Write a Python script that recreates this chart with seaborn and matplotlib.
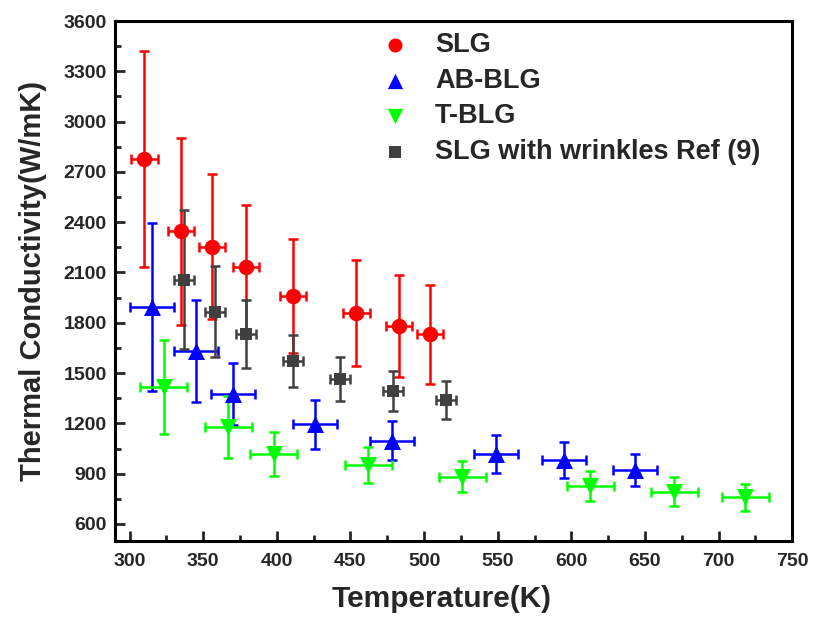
import matplotlib
matplotlib.use("Agg")
import matplotlib.pyplot as plt
import seaborn as sns
import pandas as pd
from matplotlib.ticker import MultipleLocator

# --- data (T in K, kappa in W/mK) ---
SLG_T = [310, 335, 356, 379, 411, 454, 483, 504]
SLG_K = [2775, 2345, 2255, 2130, 1960, 1860, 1780, 1732]
SLG_KERR = [645, 560, 435, 370, 340, 315, 305, 295]
SLG_TERR = [9, 9, 9, 9, 9, 9, 9, 9]

AB_T = [315, 345, 370, 426, 478, 549, 595, 643]
AB_K = [1893, 1632, 1376, 1195, 1097, 1018, 982, 923]
AB_KERR = [500, 305, 185, 145, 115, 112, 105, 95]
AB_TERR = [15, 15, 15, 15, 15, 15, 15, 15]

TB_T = [323, 367, 398, 462, 526, 613, 670, 718]
TB_K = [1416, 1177, 1016, 952, 883, 827, 793, 760]
TB_KERR = [282, 186, 130, 107, 95, 88, 85, 80]
TB_TERR = [16, 16, 16, 16, 16, 16, 16, 16]

WR_T = [337, 358, 379, 411, 443, 479, 515]
WR_K = [2056, 1867, 1732, 1573, 1465, 1394, 1340]
WR_KERR = [415, 272, 203, 157, 132, 120, 112]
WR_TERR = [7, 7, 7, 7, 7, 7, 7]

SERIES = [
    ("SLG", SLG_T, SLG_K, SLG_TERR, SLG_KERR, "#ff0000", "o", 125),
    ("AB-BLG", AB_T, AB_K, AB_TERR, AB_KERR, "#0000ff", "^", 150),
    ("T-BLG", TB_T, TB_K, TB_TERR, TB_KERR, "#00ff00", "v", 150),
    ("SLG with wrinkles Ref (9)", WR_T, WR_K, WR_TERR, WR_KERR, "#404040", "s", 80),
]

sns.set_theme(style="ticks")
plt.rcParams['font.family'] = ['Liberation Sans', 'DejaVu Sans']
plt.rcParams['font.weight'] = 'bold'

fig = plt.figure(figsize=(8.15, 6.18), dpi=100)
ax = fig.add_axes([0.141, 0.125, 0.831, 0.841])

for name, t, k, terr, kerr, color, marker, size in SERIES:
    df = pd.DataFrame({"T": t, "K": k})
    ax.errorbar(df["T"], df["K"], xerr=terr, yerr=kerr, fmt="none",
                ecolor=color, elinewidth=1.8, capsize=3.5, capthick=1.8, zorder=2)
    sns.scatterplot(data=df, x="T", y="K", ax=ax, color=color, marker=marker,
                    s=size, linewidth=0, label=name, zorder=3)

ax.set_xlim(290, 750)
ax.set_ylim(500, 3600)
ax.xaxis.set_major_locator(MultipleLocator(50))
ax.xaxis.set_minor_locator(MultipleLocator(25))
ax.yaxis.set_major_locator(MultipleLocator(300))
ax.yaxis.set_minor_locator(MultipleLocator(150))
ax.tick_params(which='both', direction='in', top=False, right=False, width=2,
               labelsize=14)
ax.tick_params(axis='x', pad=9)
ax.tick_params(axis='y', pad=6)
ax.tick_params(which='major', length=7)
ax.tick_params(which='minor', length=4)
for sp in ax.spines.values():
    sp.set_linewidth(2.2)
    sp.set_color('black')
for lab in ax.get_xticklabels() + ax.get_yticklabels():
    lab.set_fontweight('bold')

ax.set_xlabel("Temperature(K)", fontsize=21.5, fontweight='bold')
ax.xaxis.set_label_coords(0.483, -0.085)
ax.set_ylabel("Thermal Conductivity(W/mK)", fontsize=21, fontweight='bold', labelpad=12)

leg = ax.legend(loc='upper left', bbox_to_anchor=(0.357, 1.026), frameon=False,
                prop={'size': 19.5, 'weight': 'bold'}, labelspacing=0.36,
                handlelength=1.0, handletextpad=1.0, markerscale=0.9)

fig.savefig("out.png", dpi=100)
